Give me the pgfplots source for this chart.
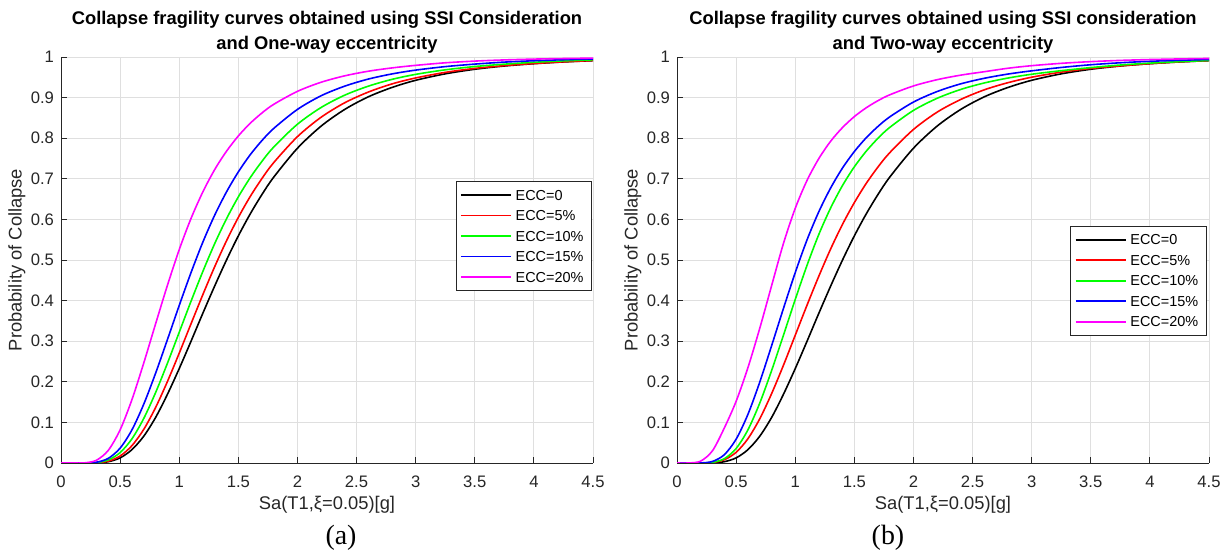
\documentclass[border=0pt]{standalone}
\usepackage{fontspec}
\setmainfont{Liberation Sans}
\newfontfamily\capfont{Liberation Serif}
\usepackage{pgfplots}
\usepackage{pgfplotstable}
\pgfplotsset{compat=1.18}
\definecolor{axgray}{RGB}{38,38,38}
\definecolor{gridgray}{RGB}{223,223,223}
\definecolor{mgreen}{RGB}{0,255,0}
\definecolor{mblue}{RGB}{0,0,255}
\definecolor{mred}{RGB}{255,0,0}
\definecolor{mmag}{RGB}{255,0,255}

% Panel (a): one-way eccentricity
\pgfplotstableread{
x    e0     e5     e10    e15    e20
0    0      0      0      0      0
0.1  0      0      0      0      0
0.2  0      0      0      0.0001 0.0004
0.3  0.0004 0.0006 0.0011 0.0019 0.0068
0.4  0.0032 0.0046 0.0075 0.0114 0.0312
0.5  0.0126 0.0172 0.0256 0.0366 0.0816
0.6  0.0329 0.0427 0.0595 0.0816 0.1561
0.7  0.0660 0.0828 0.1097 0.1449 0.2463
0.8  0.1120 0.1365 0.1733 0.2210 0.3426
0.9  0.1690 0.2005 0.2455 0.3037 0.4374
1.0  0.2325 0.2705 0.3220 0.3880 0.5255
1.1  0.3000 0.3430 0.3985 0.4691 0.6025
1.2  0.3690 0.4148 0.4719 0.5441 0.6678
1.3  0.4360 0.4835 0.5403 0.6104 0.7227
1.4  0.5000 0.5473 0.6015 0.6677 0.7679
1.5  0.5594 0.6049 0.6555 0.7170 0.8055
1.6  0.6132 0.6561 0.7025 0.7590 0.8366
1.7  0.6614 0.7009 0.7431 0.7943 0.8622
1.8  0.7043 0.7401 0.7784 0.8242 0.8835
2.0  0.7753 0.8038 0.8344 0.8709 0.9154
2.2  0.8297 0.8516 0.8756 0.9045 0.9378
2.4  0.8709 0.8873 0.9060 0.9282 0.9536
2.6  0.9020 0.9137 0.9282 0.9457 0.9650
2.8  0.9250 0.9337 0.9449 0.9583 0.9731
3.0  0.9426 0.9484 0.9572 0.9677 0.9794
3.25 0.9585 0.9621 0.9684 0.9763 0.9857
3.5  0.9698 0.9719 0.9765 0.9825 0.9899
3.75 0.9778 0.9788 0.9823 0.9874 0.9928
4.0  0.9835 0.9839 0.9870 0.9908 0.9948
4.25 0.9878 0.9881 0.9904 0.9933 0.9962
4.5  0.9910 0.9912 0.9929 0.9950 0.9972
}\tabA

% Panel (b): two-way eccentricity
\pgfplotstableread{
x    e0     e5     e10    e15    e20
0    0      0      0      0      0
0.1  0      0      0      0      0.0001
0.2  0      0.0001 0.0001 0.0002 0.0046
0.3  0.0004 0.0013 0.0016 0.0038 0.0301
0.4  0.0032 0.0080 0.0106 0.0204 0.0861
0.5  0.0126 0.0262 0.0356 0.0586 0.1519
0.6  0.0329 0.0598 0.0817 0.1199 0.2349
0.7  0.0660 0.1089 0.1476 0.1993 0.3318
0.8  0.1120 0.1707 0.2275 0.2887 0.4365
0.9  0.1690 0.2405 0.3144 0.3803 0.5404
1.0  0.2325 0.3146 0.4027 0.4689 0.6272
1.1  0.3000 0.3889 0.4870 0.5497 0.6961
1.2  0.3690 0.4604 0.5633 0.6192 0.7500
1.3  0.4360 0.5275 0.6285 0.6776 0.7927
1.4  0.5000 0.5879 0.6835 0.7266 0.8262
1.5  0.5594 0.6413 0.7295 0.7671 0.8532
1.6  0.6132 0.6884 0.7678 0.8009 0.8748
1.7  0.6614 0.7291 0.7998 0.8290 0.8924
1.8  0.7043 0.7645 0.8267 0.8526 0.9069
2.0  0.7753 0.8215 0.8684 0.8890 0.9287
2.2  0.8297 0.8641 0.8982 0.9149 0.9441
2.4  0.8709 0.8954 0.9201 0.9339 0.9553
2.6  0.9020 0.9192 0.9361 0.9476 0.9638
2.8  0.9250 0.9368 0.9482 0.9580 0.9723
3.0  0.9426 0.9502 0.9575 0.9659 0.9786
3.25 0.9585 0.9627 0.9663 0.9742 0.9844
3.5  0.9698 0.9718 0.9739 0.9809 0.9886
3.75 0.9778 0.9782 0.9802 0.9858 0.9916
4.0  0.9835 0.9836 0.9849 0.9894 0.9937
4.25 0.9878 0.9880 0.9885 0.9919 0.9952
4.5  0.9910 0.9912 0.9914 0.9939 0.9964
}\tabB

\pgfplotsset{
  frag/.style={
    scale only axis, width=532bp, height=406bp,
    xmin=0, xmax=4.5, ymin=0, ymax=1,
    xtick={0,0.5,1,1.5,2,2.5,3,3.5,4,4.5},
    ytick={0,0.1,0.2,0.3,0.4,0.5,0.6,0.7,0.8,0.9,1},
    axis x line*=bottom, axis y line*=left,
    axis line style={axgray, line width=0.9bp},
    tick style={axgray, line width=0.9bp},
    tick align=inside, major tick length=5.5bp,
    xmajorgrids, ymajorgrids,
    grid style={gridgray, line width=0.8bp},
    /pgf/number format/assume math mode=true,
    tick label style={font=\fontsize{16.7}{20}\selectfont, text=axgray},
    xticklabel style={anchor=base, yshift=-25bp},
    yticklabel style={xshift=-3.5bp},
    label style={font=\fontsize{18.4}{22}\selectfont, text=axgray},
    xlabel style={at={(axis description cs:0.5,0)}, anchor=base, yshift=-46.5bp},
    ylabel style={at={(axis description cs:-0.0742,0.5)}, anchor=base},
    every axis plot/.append style={line width=1.6bp, smooth},
    legend image code/.code={\draw[#1, line width=1.6bp] (0bp,0bp) -- (50bp,0bp);},
    legend cell align=left,
    legend style={font=\fontsize{14.5}{16}\selectfont, draw=axgray, line width=0.9bp,
      fill=white, inner xsep=4bp, inner ysep=3bp,
      nodes={inner xsep=4bp, inner ysep=5bp, text height=10.5bp, text depth=0bp}},
  }
}

\begin{document}
\begin{tikzpicture}
\useasboundingbox (0,0) rectangle (1226bp,554bp);

\begin{axis}[frag, at={(61bp,91bp)}, anchor=south west,
  xlabel={Sa(T1,ξ=0.05)[g]}, ylabel={Probability of Collapse},
  legend style={at={(0.998,0.6934)}, anchor=north east}]
\addplot[draw=black] table[x=x,y=e0]{\tabA};
\addplot[draw=mred] table[x=x,y=e5]{\tabA};
\addplot[draw=mgreen] table[x=x,y=e10]{\tabA};
\addplot[draw=mblue] table[x=x,y=e15]{\tabA};
\addplot[draw=mmag] table[x=x,y=e20]{\tabA};
\legend{ECC=0, ECC=5\%, ECC=10\%, ECC=15\%, ECC=20\%}
\end{axis}

\begin{axis}[frag, at={(677bp,91bp)}, anchor=south west,
  xlabel={Sa(T1,ξ=0.05)[g]}, ylabel={Probability of Collapse},
  legend style={at={(0.9957,0.5837)}, anchor=north east}]
\addplot[draw=black] table[x=x,y=e0]{\tabB};
\addplot[draw=mred] table[x=x,y=e5]{\tabB};
\addplot[draw=mgreen] table[x=x,y=e10]{\tabB};
\addplot[draw=mblue] table[x=x,y=e15]{\tabB};
\addplot[draw=mmag] table[x=x,y=e20]{\tabB};
\legend{ECC=0, ECC=5\%, ECC=10\%, ECC=15\%, ECC=20\%}
\end{axis}

\node[font=\bfseries\fontsize{18.4}{22}\selectfont, anchor=base] at (327bp,529.5bp)
  {Collapse fragility curves obtained using SSI Consideration};
\node[font=\bfseries\fontsize{18.4}{22}\selectfont, anchor=base] at (327bp,504.5bp)
  {and One-way eccentricity};
\node[font=\bfseries\fontsize{18.4}{22}\selectfont, anchor=base] at (943bp,529.5bp)
  {Collapse fragility curves obtained using SSI consideration};
\node[font=\bfseries\fontsize{18.4}{22}\selectfont, anchor=base] at (943bp,504.5bp)
  {and Two-way eccentricity};

\node[font=\capfont\fontsize{28}{30}\selectfont, anchor=base] at (341bp,10bp) {(a)};
\node[font=\capfont\fontsize{28}{30}\selectfont, anchor=base] at (888bp,10bp) {(b)};
\end{tikzpicture}
\end{document}
